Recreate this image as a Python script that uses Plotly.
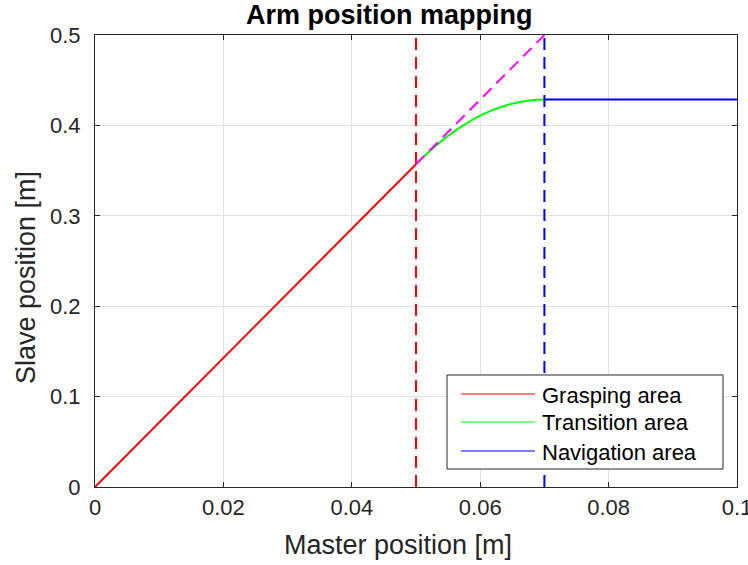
import plotly.graph_objects as go

# Data
grasp_x = [0.0, 0.05]
grasp_y = [0.0, 0.3571]

trans_x = [0.050, 0.052, 0.054, 0.056, 0.058, 0.060, 0.062, 0.064, 0.066, 0.068, 0.070]
trans_y = [0.3571, 0.3707, 0.3829, 0.3936, 0.4029, 0.4107, 0.4171, 0.4221, 0.4257, 0.4279, 0.4286]

nav_x = [0.07, 0.1]
nav_y = [0.4286, 0.4286]

linear_ext_x = [0.05, 0.07]
linear_ext_y = [0.3571, 0.5]

grasp_limit = 0.05
nav_limit = 0.07
x_range = [0, 0.1]
y_range = [0, 0.5]

x_ticks = [0, 0.02, 0.04, 0.06, 0.08, 0.1]
x_ticklabels = ["0", "0.02", "0.04", "0.06", "0.08", "0.1"]
y_ticks = [0, 0.1, 0.2, 0.3, 0.4, 0.5]
y_ticklabels = ["0", "0.1", "0.2", "0.3", "0.4", "0.5"]

title_text = "Arm position mapping"
x_label = "Master position [m]"
y_label = "Slave position [m]"

legend_names = ["Grasping area", "Transition area", "Navigation area"]
legend_colors = ["#ff0000", "#00ff00", "#0000ff"]

font = "Liberation Sans, Arial, Helvetica, sans-serif"
axis_col = "#262626"

fig = go.Figure()
fig.add_trace(go.Scatter(x=grasp_x, y=grasp_y, mode="lines", name=legend_names[0], showlegend=False,
                         line=dict(color=legend_colors[0], width=2)))
fig.add_trace(go.Scatter(x=trans_x, y=trans_y, mode="lines", name=legend_names[1], showlegend=False,
                         line=dict(color=legend_colors[1], width=2, shape="spline")))
fig.add_trace(go.Scatter(x=nav_x, y=nav_y, mode="lines", name=legend_names[2], showlegend=False,
                         line=dict(color=legend_colors[2], width=2)))
fig.add_trace(go.Scatter(x=[grasp_limit, grasp_limit], y=y_range, mode="lines", showlegend=False,
                         line=dict(color="#ff0000", width=2, dash="12px,7px")))
fig.add_trace(go.Scatter(x=[nav_limit, nav_limit], y=y_range, mode="lines", showlegend=False,
                         line=dict(color="#0000ff", width=2, dash="12px,7px")))
fig.add_trace(go.Scatter(x=linear_ext_x, y=linear_ext_y, mode="lines", showlegend=False,
                         line=dict(color="#ff00ff", width=2, dash="12px,7px")))

axis_common = dict(
    showline=True, linecolor=axis_col, linewidth=1, mirror="ticks",
    ticks="inside", ticklen=5, tickcolor=axis_col, tickwidth=1,
    showgrid=True, gridcolor="#e3e3e3", gridwidth=1,
    zeroline=False, automargin=False, ticklabeloverflow="allow",
    tickfont=dict(size=22, color=axis_col, family=font),
)

# Legend drawn as a framed box in paper coordinates (MATLAB style)
shapes = [dict(type="rect", xref="paper", yref="paper", x0=0.5483, x1=0.9782, y0=0.0398, y1=0.2478,
               line=dict(color=axis_col, width=1), fillcolor="white", layer="above")]
annotations = []
row_line_y = [0.2058, 0.1438, 0.0796]
row_text_y = [0.2035, 0.1416, 0.0774]
for name, col, ly, ty in zip(legend_names, legend_colors, row_line_y, row_text_y):
    shapes.append(dict(type="line", xref="paper", yref="paper", x0=0.5701, x1=0.6854, y0=ly, y1=ly,
                       line=dict(color=col, width=1.2), layer="above"))
    annotations.append(dict(text=name, xref="paper", yref="paper", x=0.6925, y=ty,
                            xanchor="left", yanchor="middle", showarrow=False,
                            font=dict(size=22, color="black", family=font)))

annotations += [
    dict(text="<b>" + title_text + "</b>", xref="paper", yref="paper",
         x=0.4595, y=1.044, xanchor="center", yanchor="middle", showarrow=False,
         font=dict(size=27, color="black", family=font)),
    dict(text=x_label, xref="paper", yref="paper",
         x=0.472, y=-0.128, xanchor="center", yanchor="middle", showarrow=False,
         font=dict(size=27, color=axis_col, family=font)),
    dict(text=y_label, xref="paper", yref="paper", textangle=-90,
         x=-0.1075, y=0.4646, xanchor="center", yanchor="middle", showarrow=False,
         font=dict(size=27, color=axis_col, family=font)),
]

fig.update_layout(
    template="none",
    width=748, height=565,
    margin=dict(l=95, r=11, t=35, b=78, pad=0),
    paper_bgcolor="white", plot_bgcolor="white",
    xaxis=dict(range=x_range, tickvals=x_ticks, ticktext=x_ticklabels, ticklabelstandoff=1, **axis_common),
    yaxis=dict(range=y_range, tickvals=y_ticks, ticktext=y_ticklabels, ticklabelstandoff=9, **axis_common),
    showlegend=False,
    shapes=shapes,
    annotations=annotations,
)

fig.write_html("out.html", config={"displayModeBar": False},
               post_script="document.body.style.margin='0';document.body.style.overflow='hidden';")
